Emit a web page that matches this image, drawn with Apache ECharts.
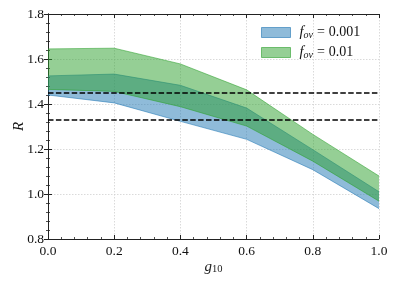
<!DOCTYPE html>
<html><head><meta charset="utf-8">
<script src="https://cdn.jsdelivr.net/npm/echarts@6/dist/echarts.min.js"></script>
<style>html,body{margin:0;padding:0;background:#fff}#c{width:397px;height:282px}</style>
</head><body><div id="c"></div>
<script>
const xs = [0.0, 0.2, 0.4, 0.6, 0.8, 1.0];
const blueLow  = [1.440, 1.405, 1.323, 1.243, 1.108, 0.935];
const blueHigh = [1.525, 1.533, 1.483, 1.382, 1.197, 1.010];
const greenLow  = [1.465, 1.456, 1.388, 1.302, 1.146, 0.968];
const greenHigh = [1.645, 1.648, 1.578, 1.463, 1.265, 1.080];
const hLines = [1.45, 1.33];
const legendNames = ['0.001', '0.01'];

const FONT = 'Liberation Serif';
const BLUE = '31,119,180', GREEN = '44,160,44';

function band(rgb, lo, hi, name) {
  return {
    type: 'custom', name: name, silent: true, z: 2,
    itemStyle: { color: 'rgba(' + rgb + ',0.5)' },
    data: xs.map((x, i) => [x, lo[i], hi[i]]),
    encode: { x: 0, y: [1, 2] },
    renderItem: function (params, api) {
      if (params.dataIndex !== 0) return null;
      const top = xs.map((x, i) => api.coord([x, hi[i]]));
      const bot = xs.map((x, i) => api.coord([x, lo[i]]));
      const poly = top.concat(bot.slice().reverse());
      const edge = 'rgba(' + rgb + ',0.55)';
      return {
        type: 'group',
        children: [
          { type: 'polygon', shape: { points: poly },
            style: { fill: 'rgba(' + rgb + ',0.5)', stroke: null } },
          { type: 'polyline', shape: { points: top }, style: { stroke: edge, lineWidth: 1, fill: null } },
          { type: 'polyline', shape: { points: bot }, style: { stroke: edge, lineWidth: 1, fill: null } }
        ]
      };
    }
  };
}

const spine = { show: true, lineStyle: { color: '#222', width: 1 } };
const tick = { show: true, inside: true, length: 4, lineStyle: { color: '#222', width: 1 } };
const minor = { show: true, splitNumber: 5, length: 2, lineStyle: { color: '#222', width: 0.8 } };
const grid = { show: true, lineStyle: { color: '#d0d0d0', type: [1.5, 1.5], width: 0.8 } };
const lbl = { fontFamily: FONT, fontSize: 13.5, color: '#111' };

const chart = echarts.init(document.getElementById('c'), null, { renderer: 'canvas' });
chart.setOption({
  animation: false,
  backgroundColor: '#fff',
  grid: { left: 48, right: 18, top: 14, bottom: 43, containLabel: false, outerBoundsMode: 'none' },
  legend: {
    left: 256, top: 20, orient: 'vertical', itemGap: 5, itemWidth: 29, itemHeight: 10,
    icon: 'rect', selectedMode: false,
    data: [
      { name: 'b', itemStyle: { color: 'rgba(' + BLUE + ',0.5)', borderColor: 'rgba(' + BLUE + ',0.6)', borderWidth: 1 } },
      { name: 'g', itemStyle: { color: 'rgba(' + GREEN + ',0.5)', borderColor: 'rgba(' + GREEN + ',0.6)', borderWidth: 1 } }
    ],
    formatter: (n) => '{i|f}{s|ov}{e|=}{n|' + (n === 'b' ? legendNames[0] : legendNames[1]) + '}',
    textStyle: {
      fontFamily: FONT, fontSize: 14, color: '#111', padding: [0, 0, 0, 4], lineHeight: 14,
      rich: {
        i: { fontFamily: FONT, fontStyle: 'italic', fontSize: 14.5, lineHeight: 14 },
        s: { fontFamily: FONT, fontStyle: 'italic', fontSize: 10, lineHeight: 10, padding: [5, 0, 0, 0] },
        e: { fontFamily: FONT, fontSize: 14, lineHeight: 14, padding: [0, 4, 0, 4] },
        n: { fontFamily: FONT, fontSize: 14, lineHeight: 14 }
      }
    }
  },
  xAxis: [
    { type: 'value', min: 0, max: 1, interval: 0.2, position: 'bottom',
      name: '{i|g}{s|10}', nameLocation: 'middle', nameGap: 20, nameMoveOverlap: false,
      nameTextStyle: { fontFamily: FONT, rich: {
        i: { fontFamily: FONT, fontStyle: 'italic', fontSize: 15 },
        s: { fontFamily: FONT, fontSize: 10.5, padding: [5, 0, 0, 0] } } },
      axisLine: spine, axisTick: tick, minorTick: minor, splitLine: grid,
      axisLabel: Object.assign({ margin: 5, formatter: (v) => v.toFixed(1) }, lbl) },
    { type: 'value', min: 0, max: 1, interval: 0.2, position: 'top',
      axisLine: spine, axisTick: tick, minorTick: minor, splitLine: { show: false },
      axisLabel: { show: false } }
  ],
  yAxis: [
    { type: 'value', min: 0.8, max: 1.8, interval: 0.2, position: 'left',
      name: 'R', nameLocation: 'middle', nameGap: 21, nameRotate: 90, nameMoveOverlap: false,
      nameTextStyle: { fontFamily: FONT, fontStyle: 'italic', fontSize: 15, color: '#111' },
      axisLine: spine, axisTick: tick, minorTick: minor, splitLine: grid,
      axisLabel: Object.assign({ margin: 4, formatter: (v) => v.toFixed(1) }, lbl) },
    { type: 'value', min: 0.8, max: 1.8, interval: 0.2, position: 'right',
      axisLine: spine, axisTick: tick, minorTick: minor, splitLine: { show: false },
      axisLabel: { show: false } }
  ],
  series: [
    band(BLUE, blueLow, blueHigh, 'b'),
    band(GREEN, greenLow, greenHigh, 'g'),
    { type: 'line', data: [], silent: true, z: 5,
      markLine: { silent: true, symbol: 'none', label: { show: false },
        lineStyle: { color: '#000', width: 1.6, type: [5.5, 2.4] },
        data: hLines.map((v) => ({ yAxis: v })) } }
  ]
});
</script></body></html>
